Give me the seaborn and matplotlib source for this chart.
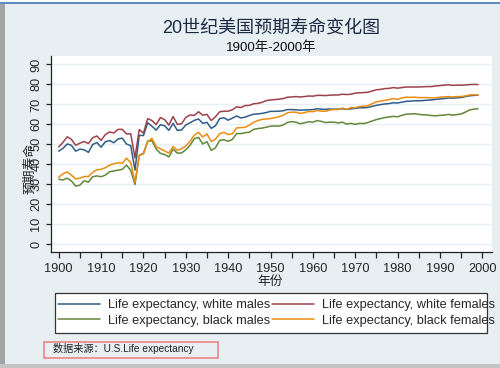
import numpy as np
import pandas as pd
import matplotlib
matplotlib.use("Agg")
import matplotlib.pyplot as plt
import seaborn as sns
from matplotlib.patches import Rectangle

# ── DATA ──────────────────────────────────────────────────────────────────────
years = list(range(1900, 2000))

white_males = [
    46.6, 48.0, 50.2, 49.5, 46.6, 47.6, 47.3, 46.0, 49.9, 50.9,
    48.6, 51.3, 51.9, 50.8, 52.7, 53.1, 50.2, 49.3, 37.1, 54.5,
    54.4, 60.8, 59.1, 57.1, 59.8, 59.3, 57.0, 60.5, 57.0, 57.2,
    59.7, 60.8, 62.0, 62.7, 60.5, 61.0, 58.0, 59.3, 62.9, 63.3,
    62.1, 63.1, 64.2, 63.2, 63.6, 64.4, 65.1, 65.2, 65.5, 65.9,
    66.5, 66.5, 66.6, 66.8, 67.4, 67.4, 67.3, 67.1, 67.2, 67.3,
    67.4, 67.8, 67.6, 67.5, 67.7, 67.6, 67.6, 67.8, 67.5, 67.8,
    68.0, 68.3, 68.3, 68.5, 69.0, 69.5, 69.9, 70.2, 70.4, 70.8,
    70.7, 71.1, 71.5, 71.6, 71.8, 71.8, 71.9, 72.1, 72.2, 72.5,
    72.7, 72.9, 73.2, 73.1, 73.3, 73.4, 73.9, 74.3, 74.5, 74.6,
]
white_females = [
    48.7, 51.0, 53.8, 52.5, 49.5, 50.6, 51.4, 50.4, 53.3, 54.2,
    52.0, 54.9, 56.2, 55.7, 57.5, 57.5, 55.2, 55.3, 43.2, 57.4,
    55.6, 62.9, 61.9, 59.9, 63.4, 62.4, 59.6, 63.9, 60.0, 60.3,
    63.5, 64.7, 64.5, 66.3, 64.6, 65.0, 61.9, 63.8, 66.3, 66.6,
    66.6, 67.3, 68.8, 68.4, 69.4, 69.5, 70.3, 70.5, 71.0, 71.9,
    72.2, 72.4, 72.6, 72.9, 73.6, 73.7, 73.9, 73.7, 73.9, 74.2,
    74.1, 74.5, 74.5, 74.4, 74.6, 74.7, 74.7, 75.1, 74.9, 75.1,
    75.6, 75.8, 75.9, 76.1, 76.7, 77.3, 77.5, 77.9, 78.0, 78.4,
    78.1, 78.4, 78.7, 78.7, 78.7, 78.7, 78.8, 78.9, 78.9, 79.2,
    79.4, 79.6, 79.8, 79.5, 79.6, 79.6, 79.7, 79.9, 80.0, 79.9,
]
black_males = [
    32.5, 32.2, 33.1, 31.7, 29.1, 29.6, 31.8, 31.1, 33.8, 34.2,
    33.8, 34.6, 36.3, 36.7, 37.1, 37.5, 39.6, 37.0, 29.9, 44.5,
    45.5, 51.6, 51.8, 47.7, 45.5, 44.9, 43.7, 47.6, 45.6, 45.7,
    47.3, 49.5, 52.8, 53.5, 50.2, 51.3, 47.0, 48.3, 52.0, 52.3,
    51.5, 52.5, 55.4, 55.4, 55.8, 56.1, 57.5, 57.9, 58.1, 58.6,
    59.1, 59.2, 59.1, 59.7, 61.0, 61.4, 61.1, 60.3, 60.8, 61.3,
    61.1, 61.9, 61.5, 60.9, 61.1, 61.1, 60.7, 61.1, 60.1, 60.5,
    60.0, 60.5, 60.4, 60.9, 61.7, 62.4, 62.9, 63.4, 63.7, 64.0,
    63.8, 64.5, 65.1, 65.2, 65.3, 65.0, 64.8, 64.7, 64.4, 64.3,
    64.5, 64.6, 65.0, 64.6, 64.9, 65.2, 66.1, 67.2, 67.6, 67.8,
]
black_females = [
    33.5, 35.3, 36.2, 34.6, 32.7, 33.1, 33.9, 33.9, 36.0, 37.3,
    37.5, 38.3, 39.6, 40.3, 40.8, 40.5, 43.1, 40.8, 31.1, 44.4,
    45.2, 51.3, 53.0, 48.9, 47.8, 46.7, 45.6, 48.9, 47.0, 47.8,
    49.2, 51.5, 54.6, 56.0, 53.7, 55.2, 51.4, 52.6, 55.3, 56.0,
    54.9, 55.3, 58.2, 58.4, 58.5, 59.6, 61.0, 61.9, 62.5, 62.7,
    62.9, 63.3, 63.8, 64.5, 65.8, 66.1, 66.1, 65.5, 65.8, 66.5,
    66.3, 67.0, 66.6, 66.5, 67.2, 67.4, 67.4, 68.2, 67.5, 68.4,
    68.3, 68.9, 69.1, 69.3, 70.3, 71.3, 71.6, 72.0, 72.4, 72.9,
    72.5, 73.2, 73.6, 73.5, 73.6, 73.4, 73.4, 73.4, 73.2, 73.3,
    73.6, 73.8, 73.9, 73.7, 73.9, 73.9, 74.2, 74.7, 74.8, 74.7,
]

series_names = [
    "Life expectancy, white males",
    "Life expectancy, white females",
    "Life expectancy, black males",
    "Life expectancy, black females",
]
series_values = [white_males, white_females, black_males, black_females]
series_colors = ["#2f5d89", "#9c424a", "#62863a", "#ec8c10"]

df = pd.DataFrame({
    "year": years * 4,
    "value": sum(series_values, []),
    "series": np.repeat(series_names, len(years)),
})

# ── STYLE ─────────────────────────────────────────────────────────────────────
BG = "#e8eff2"
sns.set_theme(style="white")
plt.rcParams.update({
    "font.family": ["Liberation Sans", "Noto Sans CJK SC"],
    "axes.spines.top": False,
    "axes.spines.right": False,
})

fig = plt.figure(figsize=(5.0, 3.68), dpi=100, facecolor=BG)
ax = fig.add_axes([50.7 / 500, 1 - 252 / 368, (492 - 50.7) / 500, (252 - 56) / 368])
ax.set_facecolor("white")

sns.lineplot(data=df, x="year", y="value", hue="series", hue_order=series_names,
             palette=series_colors, linewidth=1.1, ax=ax, zorder=3)

ax.set_xlim(1898.1, 2002.3)
ax.set_ylim(-3.85, 94.2)
ax.set_xticks(np.arange(1900, 2001, 5))
ax.set_xticklabels([str(y) if y % 10 == 0 else "" for y in range(1900, 2001, 5)])
ax.set_yticks(np.arange(0, 91, 10))
ax.yaxis.grid(True, color="#e8eff2", linewidth=1.0)
ax.set_axisbelow(True)
for s in ["left", "bottom"]:
    ax.spines[s].set_color("#222222")
    ax.spines[s].set_linewidth(0.9)
ax.tick_params(axis="x", direction="out", length=4, width=0.9, color="#222222",
               labelsize=9.2, pad=4, bottom=True)
ax.tick_params(axis="y", direction="out", length=3.5, width=0.9, color="#222222",
               labelsize=9.2, pad=2.5, left=True)
for lab in ax.get_yticklabels():
    lab.set_rotation(90)
    lab.set_va("center")

ax.set_xlabel("")
ax.set_ylabel("")
fig.text(270 / 500, 1 - 282 / 368, "年份", ha="center", va="center", fontsize=9.2, color="#222222")
fig.text(30 / 500, 1 - 168 / 368, "预期寿命", ha="center", va="center", rotation=90,
         fontsize=9.2, color="#222222")

# titles
fig.text(271 / 500, 1 - 29 / 368, "20世纪美国预期寿命变化图", ha="center", va="center",
         fontsize=13, color="#1a2a44")
fig.text(271 / 500, 1 - 48 / 368, "1900年-2000年", ha="center", va="center",
         fontsize=9.6, color="#111111")

# legend
handles, labels = ax.get_legend_handles_labels()
ax.get_legend().remove()
order = [0, 2, 1, 3]
fig.patches.append(Rectangle((55 / 500, 1 - 333 / 368), (487 - 55) / 500, 40 / 368,
                             transform=fig.transFigure, facecolor="white",
                             edgecolor="#333333", linewidth=0.9, zorder=1))
fig.legend([handles[i] for i in order], [labels[i] for i in order], ncol=2,
           loc="upper left", bbox_to_anchor=(58 / 500, 1 - 299 / 368), frameon=False,
           fontsize=9.2, handlelength=3.3, handletextpad=0.6, columnspacing=0.15,
           labelspacing=0.3, borderaxespad=0, borderpad=0)

# source note
fig.text(53 / 500, 1 - 348 / 368, "数据来源：U.S.Life expectancy", ha="left", va="center",
         fontsize=7.3, color="#222222")
fig.patches.append(Rectangle((44 / 500, 1 - 358 / 368), 174 / 500, 16 / 368,
                             transform=fig.transFigure, facecolor="none",
                             edgecolor="#f07c7c", linewidth=1.1, zorder=5))

# screenshot frame
fig.patches.append(Rectangle((0, 0), 5 / 500, 1, transform=fig.transFigure,
                             facecolor="#a4a4a4", edgecolor="none", zorder=6))
fig.patches.append(Rectangle((0, 1 - 4 / 368), 1, 2 / 368, transform=fig.transFigure,
                             facecolor="#5b8bc0", edgecolor="none", zorder=6))
fig.patches.append(Rectangle((0, 1 - 2 / 368), 1, 2 / 368, transform=fig.transFigure,
                             facecolor="white", edgecolor="none", zorder=6))
fig.patches.append(Rectangle((0, 0), 1, 4 / 368, transform=fig.transFigure,
                             facecolor="#c4c4c4", edgecolor="none", zorder=6))

fig.savefig("out.png", dpi=100, facecolor=BG)
